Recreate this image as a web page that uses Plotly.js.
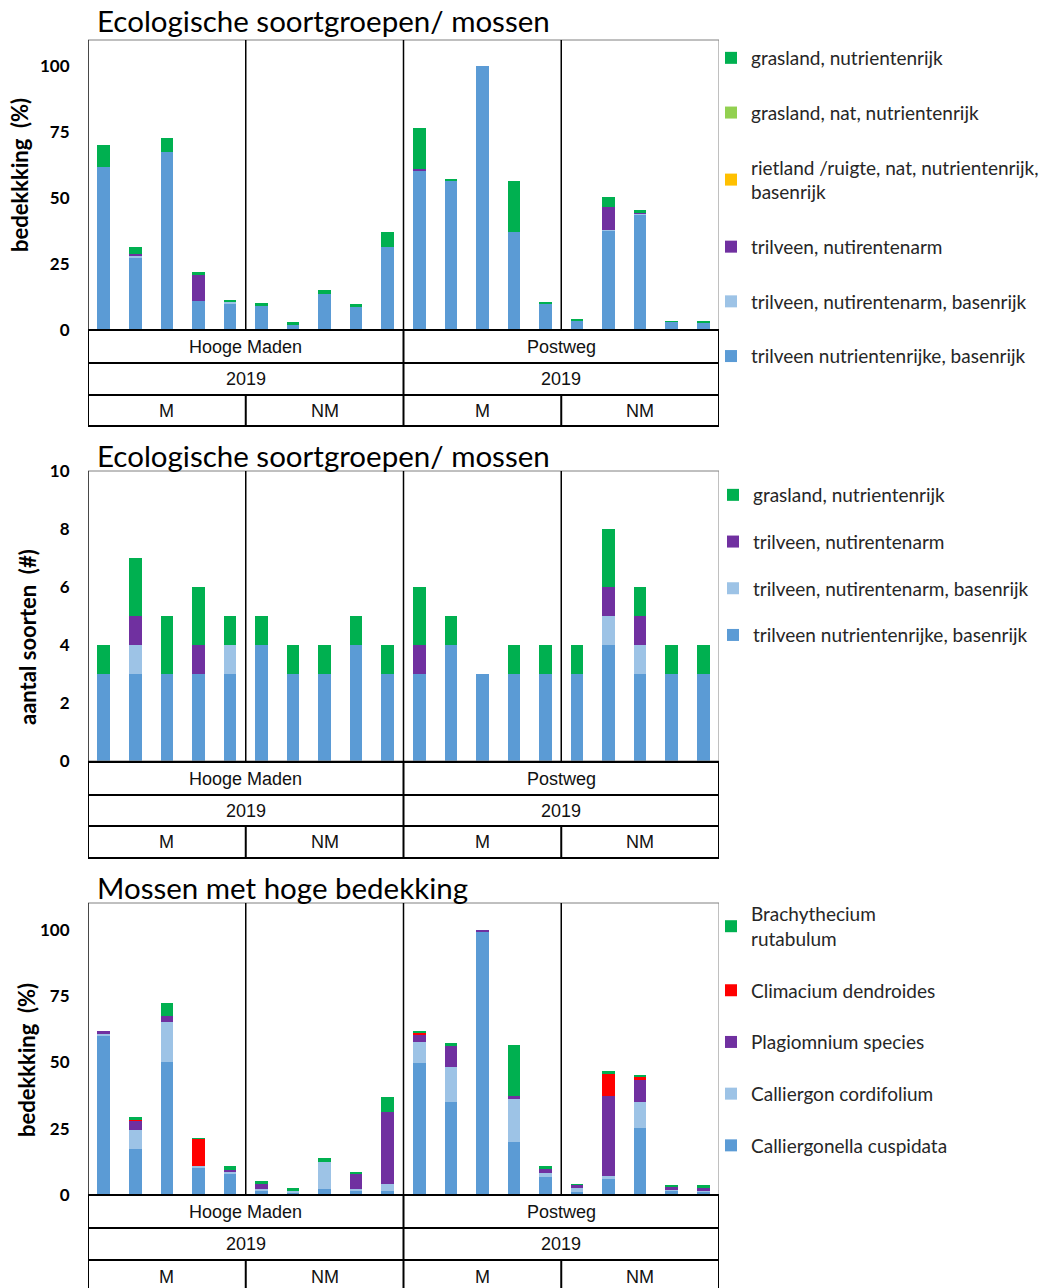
<!DOCTYPE html>
<html>
<head>
<meta charset="utf-8">
<script src="https://cdn.plot.ly/plotly-3.0.1.min.js"></script>
<style>html,body{margin:0;padding:0;background:#fff}#chart{width:1040px;height:1288px}</style>
</head>
<body>
<div id="chart"></div>
<script>
// ---------- categories ----------
const site = ['Hooge Maden','Hooge Maden','Hooge Maden','Hooge Maden','Hooge Maden','Hooge Maden','Hooge Maden','Hooge Maden','Hooge Maden','Hooge Maden',
              'Postweg','Postweg','Postweg','Postweg','Postweg','Postweg','Postweg','Postweg','Postweg','Postweg'];
const year = ['2019','2019','2019','2019','2019','2019','2019','2019','2019','2019','2019','2019','2019','2019','2019','2019','2019','2019','2019','2019'];
const treatment = ['M','M','M','M','M','NM','NM','NM','NM','NM','M','M','M','M','M','NM','NM','NM','NM','NM'];

// ---------- panel 1: ecologische soortgroepen, bedekking (%) ----------
const p1_trilveenRijkBasen = [62, 27.5, 67.5, 11, 9.8, 9, 1.9, 13.6, 8.6, 31.4, 60.4, 56.4, 100, 37.1, 10, 3.4, 37.6, 43.6, 3, 2.7];
const p1_trilveenArmBasen  = [0, 0.5, 0, 0, 0.9, 0, 0, 0, 0, 0, 0, 0, 0, 0, 0, 0, 0.5, 0.3, 0, 0];
const p1_trilveenArm       = [0, 0.8, 0, 9.8, 0, 0, 0, 0, 0, 0, 0.5, 0, 0, 0, 0, 0, 8.5, 0.4, 0, 0];
const p1_rietland          = [0, 0, 0, 0, 0, 0, 0, 0, 0, 0, 0, 0, 0, 0, 0, 0, 0, 0, 0, 0];
const p1_graslandNat       = [0, 0, 0, 0, 0, 0, 0, 0, 0, 0, 0, 0, 0, 0, 0, 0, 0, 0, 0, 0];
const p1_graslandRijk      = [8, 2.8, 5.5, 1.3, 0.8, 1.1, 1.1, 1.6, 1.1, 5.7, 15.6, 1.0, 0, 19.3, 0.7, 0.8, 4.0, 1.3, 0.4, 0.7];

// ---------- panel 2: ecologische soortgroepen, aantal soorten ----------
const p2_trilveenRijkBasen = [3, 3, 3, 3, 3, 4, 3, 3, 4, 3, 3, 4, 3, 3, 3, 3, 4, 3, 3, 3];
const p2_trilveenArmBasen  = [0, 1, 0, 0, 1, 0, 0, 0, 0, 0, 0, 0, 0, 0, 0, 0, 1, 1, 0, 0];
const p2_trilveenArm       = [0, 1, 0, 1, 0, 0, 0, 0, 0, 0, 1, 0, 0, 0, 0, 0, 1, 1, 0, 0];
const p2_graslandRijk      = [1, 2, 2, 2, 1, 1, 1, 1, 1, 1, 2, 1, 0, 1, 1, 1, 2, 1, 1, 1];

// ---------- panel 3: mossen met hoge bedekking (%) ----------
const p3_calliergonella = [60, 17.3, 50, 10.3, 7.9, 1.5, 0.9, 2.1, 1.5, 1.5, 49.9, 35, 99.2, 20.1, 6.9, 1.3, 6, 25.2, 1.5, 1.3];
const p3_calliergon     = [0.7, 7.2, 15.1, 0.7, 0.8, 0.6, 0.6, 10.4, 0.6, 2.6, 7.8, 13.1, 0, 15.9, 1.3, 1.5, 1.2, 9.8, 0.4, 0.3];
const p3_plagiomnium    = [1.2, 3.2, 2.3, 0, 0.8, 2.2, 0, 0, 5.8, 27.3, 2.5, 8.0, 0.8, 1.3, 1.7, 0.8, 30.1, 8.5, 1.1, 1.0];
const p3_climacium      = [0, 0.7, 0, 10.1, 0, 0, 0, 0, 0, 0, 0.9, 0, 0, 0, 0, 0, 8.2, 0.8, 0, 0];
const p3_brachythecium  = [0, 1.1, 5.0, 0.5, 1.3, 0.8, 1.1, 1.4, 0.6, 5.7, 0.5, 1.0, 0, 19.2, 0.9, 0.5, 1.4, 0.9, 0.8, 1.2];

// ---------- styling ----------
const C = {blue:'#5B9BD5', lblue:'#9DC3E6', purple:'#7030A0', orange:'#FFC000', lgreen:'#92D050', green:'#00B050', red:'#FF0000'};
const W = 1040, H = 1288;
const px = v => v / W;
const py = v => 1 - v / H;
const FONT = 'Lato, "Open Sans", sans-serif';
const xIdx = site.map((_, i) => i);

let rank = 1000;
function bar(name, y, color, xa, ya, legend, group) {
  return {type:'bar', name, x:xIdx, y, xaxis:xa, yaxis:ya, width:0.4,
    marker:{color, line:{width:0}}, legend, legendgroup:group, legendrank:(rank -= 10),
    customdata: site.map((s,i)=>s+' '+year[i]+' '+treatment[i]),
    hovertemplate:'%{customdata}<br>'+name.replace('<br>',' ')+': %{y}<extra></extra>'};
}

const traces = [
  bar('trilveen nutrientenrijke, basenrijk', p1_trilveenRijkBasen, C.blue, 'x', 'y', 'legend', 'a1'),
  bar('trilveen, nutirentenarm, basenrijk', p1_trilveenArmBasen, C.lblue, 'x', 'y', 'legend', 'a2'),
  bar('trilveen, nutirentenarm', p1_trilveenArm, C.purple, 'x', 'y', 'legend', 'a3'),
  bar('rietland /ruigte, nat, nutrientenrijk,<br>basenrijk', p1_rietland, C.orange, 'x', 'y', 'legend', 'a4'),
  bar('grasland, nat, nutrientenrijk', p1_graslandNat, C.lgreen, 'x', 'y', 'legend', 'a5'),
  bar('grasland, nutrientenrijk', p1_graslandRijk, C.green, 'x', 'y', 'legend', 'a6'),

  bar('trilveen nutrientenrijke, basenrijk', p2_trilveenRijkBasen, C.blue, 'x2', 'y2', 'legend2', 'b1'),
  bar('trilveen, nutirentenarm, basenrijk', p2_trilveenArmBasen, C.lblue, 'x2', 'y2', 'legend2', 'b2'),
  bar('trilveen, nutirentenarm', p2_trilveenArm, C.purple, 'x2', 'y2', 'legend2', 'b3'),
  bar('grasland, nutrientenrijk', p2_graslandRijk, C.green, 'x2', 'y2', 'legend2', 'b4'),

  bar('Calliergonella cuspidata', p3_calliergonella, C.blue, 'x3', 'y3', 'legend3', 'c1'),
  bar('Calliergon cordifolium', p3_calliergon, C.lblue, 'x3', 'y3', 'legend3', 'c2'),
  bar('Plagiomnium species', p3_plagiomnium, C.purple, 'x3', 'y3', 'legend3', 'c3'),
  bar('Climacium dendroides', p3_climacium, C.red, 'x3', 'y3', 'legend3', 'c4'),
  bar('Brachythecium<br>rutabulum', p3_brachythecium, C.green, 'x3', 'y3', 'legend3', 'c5'),
];

// panel geometry in pixels
const panels = [
  {xa:'x',  top:40,  bottom:330,  rows:[330,363,395,426], title:'Ecologische soortgroepen/ mossen', titleY:21, ytitle:'bedekkking  (%)', ytx:19, yty:175, ymax:110, ticks:[0,25,50,75,100]},
  {xa:'x2', top:471, bottom:761,  rows:[762,795,826,858], title:'Ecologische soortgroepen/ mossen', titleY:455, ytitle:'aantal soorten  (#)', ytx:27, yty:637, ymax:10, ticks:[0,2,4,6,8,10]},
  {xa:'x3', top:903, bottom:1195, rows:[1195,1228,1260,1294], title:'Mossen met hoge bedekking', titleY:887, ytitle:'bedekkking  (%)', ytx:26, yty:1060, ymax:110, ticks:[0,25,50,75,100]},
];

const shapes = [], annotations = [];
const sep = [4.5, 9.5, 14.5];
const L = -0.5, R = 19.5;
const blk = {color:'#000', width:2};
panels.forEach(p => {
  shapes.push({type:'rect', xref:p.xa, yref:'paper', x0:L, x1:R, y0:py(p.bottom), y1:py(p.top), line:{color:'#808080', width:1}});
  shapes.push({type:'line', xref:p.xa, yref:'paper', x0:L, x1:L, y0:py(p.bottom), y1:py(p.top), line:{color:'#222', width:1.5}});
  sep.forEach(s => shapes.push({type:'line', xref:p.xa, yref:'paper', x0:s, x1:s, y0:py(p.bottom), y1:py(p.top), line:{color:'#000', width:1.5}}));
  p.rows.forEach(r => shapes.push({type:'line', xref:p.xa, yref:'paper', x0:L, x1:R, y0:py(r), y1:py(r), line:blk}));
  [L, R].forEach(s => shapes.push({type:'line', xref:p.xa, yref:'paper', x0:s, x1:s, y0:py(p.rows[0]), y1:py(p.rows[3]), line:blk}));
  shapes.push({type:'line', xref:p.xa, yref:'paper', x0:9.5, x1:9.5, y0:py(p.rows[0]), y1:py(p.rows[3]), line:blk});
  [4.5, 14.5].forEach(s => shapes.push({type:'line', xref:p.xa, yref:'paper', x0:s, x1:s, y0:py(p.rows[2]), y1:py(p.rows[3]), line:blk}));

  const tf = {family:'"Liberation Sans", Arial, sans-serif', size:18, color:'#111'};
  const rc = i => py((p.rows[i] + p.rows[i+1]) / 2);
  [0, 10].forEach(st => {
    const c = (xIdx[st] + xIdx[st+9]) / 2;
    annotations.push({xref:p.xa, yref:'paper', x:c, y:rc(0), text:site[st], showarrow:false, font:tf, yanchor:'middle'});
    annotations.push({xref:p.xa, yref:'paper', x:c, y:rc(1), text:year[st], showarrow:false, font:tf, yanchor:'middle'});
  });
  [0, 5, 10, 15].forEach(st => {
    const c = (xIdx[st] + xIdx[st+4]) / 2;
    annotations.push({xref:p.xa, yref:'paper', x:c, y:rc(2), text:treatment[st], showarrow:false, font:tf, yanchor:'middle'});
  });
  annotations.push({xref:'paper', yref:'paper', x:px(95), y:py(p.titleY), xanchor:'left', yanchor:'middle', text:p.title, showarrow:false, font:{family:FONT, size:29.5, color:'#000'}});
  annotations.push({xref:'paper', yref:'paper', x:px(p.ytx), y:py(p.yty), xanchor:'center', yanchor:'middle', textangle:-90, text:p.ytitle, showarrow:false, font:{family:FONT, size:22, color:'#000', weight:'bold'}});
});

function yax(p) {
  return {domain:[py(p.bottom), py(p.top)], range:[0, p.ymax], tickvals:p.ticks, showgrid:false, zeroline:false,
    showline:false, ticks:'outside', ticklen:14, tickcolor:'rgba(0,0,0,0)', fixedrange:true, automargin:false,
    tickfont:{family:FONT, size:17, color:'#000', weight:'bold'}};
}
function xax(anchor) {
  return {domain:[px(88), px(719)], range:[L, R], anchor, showticklabels:false, showgrid:false, zeroline:false, showline:false, ticks:'', fixedrange:true, automargin:false};
}
const legBase = {xanchor:'left', yanchor:'top', traceorder:'grouped', bgcolor:'rgba(0,0,0,0)', itemwidth:30,
  font:{family:FONT, size:19, color:'#262626'}, itemclick:false, itemdoubleclick:false};

const layout = {
  width:W, height:H, margin:{l:0, r:0, t:0, b:0, autoexpand:false}, paper_bgcolor:'#fff', plot_bgcolor:'#fff',
  barmode:'stack', showlegend:true, font:{family:FONT},
  xaxis:xax('y'), xaxis2:xax('y2'), xaxis3:xax('y3'),
  yaxis:yax(panels[0]), yaxis2:yax(panels[1]), yaxis3:yax(panels[2]),
  legend:Object.assign({}, legBase, {x:px(711), y:py(39), tracegroupgap:27}),
  legend2:Object.assign({}, legBase, {x:px(713), y:py(476), tracegroupgap:19}),
  legend3:Object.assign({}, legBase, {x:px(711), y:py(895), tracegroupgap:24}),
  shapes, annotations
};

Plotly.newPlot('chart', traces, layout, {staticPlot:true, displayModeBar:false});
</script>
</body>
</html>
